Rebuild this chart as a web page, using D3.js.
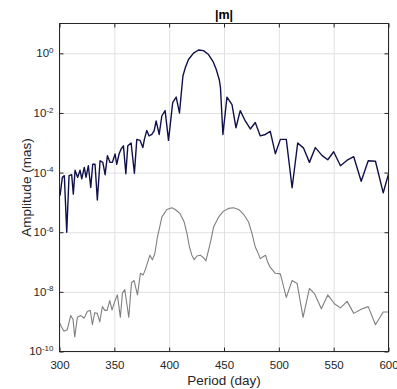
<!DOCTYPE html>
<html><head><meta charset="utf-8">
<script src="https://cdn.jsdelivr.net/npm/d3@7"></script>
<style>body{margin:0;background:#fff}svg{display:block}</style>
</head><body><svg id="c" width="397" height="389"></svg>
<script>
// Dark (navy) series: |m| amplitude
const darkPeriod = [300.5,302.6,304.4,306.6,308.7,311.1,312.6,314.2,316.6,318.7,
  320.3,322.6,324.2,326.3,328.5,330.3,332.4,334.5,337.0,339.5,
  341.6,343.7,346.1,348.2,350.7,352.2,354.3,356.2,358.3,360.5,
  362.3,365.3,368.3,370.5,373.5,376.0,377.4,379.6,381.7,384.2,
  386.3,388.1,390.9,393.3,396.3,399.4,403.2,406.4,409.4,412.5,
  414.6,417.6,422.2,426.8,431.3,435.9,439.9,442.9,445.7,446.8,
  449.0,452.7,457.3,460.9,464.8,469.4,474.0,478.5,483.1,487.7,
  492.2,496.8,501.4,506.8,512.1,517.2,522.6,527.9,533.3,539.5,
  544.6,550.0,556.2,562.3,568.3,575.1,581.5,588.1,595.2,600];
const darkAmp = [1.7e-5,6.9e-5,7.9e-5,1.0e-6,7.9e-5,8.5e-5,1.9e-5,1.2e-4,6.9e-5,1.2e-4,
  6.2e-5,1.5e-4,6.9e-5,1.7e-4,3.2e-5,1.9e-4,1.9e-4,1.2e-5,2.5e-4,2.2e-4,
  8.5e-5,3.7e-4,2.2e-4,2.2e-4,4.2e-4,1.9e-4,4.2e-4,6.2e-4,7.9e-4,9.1e-5,
  7.9e-4,9.8e-4,9.5e-5,1.3e-3,1.2e-3,6.9e-4,1.3e-3,2.6e-3,1.7e-3,1.9e-3,
  2.5e-3,5.4e-3,1.9e-3,7.9e-3,1.2e-2,1.2e-3,2.2e-2,3.4e-2,1.0e-2,0.17,
  0.32,0.62,1.02,1.29,1.23,0.91,0.54,0.29,0.13,0.069,
  1.9e-3,3.4e-2,1.9e-2,3.2e-3,1.2e-2,5.4e-3,2.9e-3,4.8e-3,1.7e-3,1.9e-3,
  2.4e-3,4.3e-4,1.3e-3,1.3e-3,3.1e-5,9.8e-4,6.6e-4,2.2e-4,6.9e-4,3.7e-4,
  2.7e-4,5.0e-4,1.7e-4,2.6e-4,3.4e-4,5.1e-5,2.5e-4,2.4e-4,2.1e-5,9.1e-5];

// Gray series
const grayPeriod = [300.2,301.6,304.1,307.1,310.2,312.3,313.9,316.3,319.4,322.4,
  325.4,328.1,330.0,332.1,334.5,336.7,339.1,341.3,343.4,345.8,
  347.9,350.4,352.8,355.5,357.4,359.5,363.2,365.6,368.0,371.1,
  373.8,376.3,378.4,380.8,382.4,384.7,386.9,389.3,391.2,393.3,
  397.9,402.5,405.5,410.0,413.7,416.2,418.5,420.7,422.8,425.3,
  428.3,431.3,433.5,435.9,438.1,440.5,445.0,449.6,454.2,458.7,
  463.3,467.9,472.4,475.5,478.5,480.6,483.1,485.6,487.9,489.8,
  492.2,496.8,501.4,506.8,512.1,516.7,522.1,527.9,532.7,538.8,
  544.6,550.7,556.2,562.3,568.3,575.1,581.5,588.1,595.2,600];
const grayAmp = [9.1e-10,6.9e-10,4.8e-10,5.4e-10,1.6e-9,1.2e-9,3.1e-10,1.4e-9,1.6e-9,1.3e-9,
  2.2e-9,2.4e-9,7.9e-10,2.0e-9,1.9e-9,9.8e-10,3.2e-9,2.4e-9,2.4e-9,5.1e-9,
  2.5e-9,4.8e-9,7.9e-9,1.4e-9,9.1e-9,1.2e-8,1.4e-9,2.0e-8,2.4e-8,7.9e-9,
  4.2e-8,3.7e-8,5.8e-8,1.1e-7,1.7e-7,1.2e-7,1.9e-7,6.9e-7,1.4e-6,3.2e-6,
  5.8e-6,6.6e-6,5.8e-6,4.2e-6,2.2e-6,9.1e-7,3.2e-7,1.7e-7,1.2e-7,1.6e-7,
  1.7e-7,1.4e-7,1.1e-7,2.5e-7,5.4e-7,1.5e-6,3.2e-6,5.1e-6,6.3e-6,6.6e-6,
  5.8e-6,4.0e-6,2.2e-6,9.1e-7,3.2e-7,2.2e-7,1.3e-7,1.5e-7,1.7e-7,1.0e-7,
  6.6e-8,4.2e-8,4.0e-8,6.5e-9,2.4e-8,1.9e-8,1.4e-9,1.3e-8,8.5e-9,2.7e-9,
  7.9e-9,4.0e-9,2.9e-9,4.8e-9,1.9e-9,2.6e-9,3.2e-9,7.9e-10,2.1e-9,2.1e-9];

const xTicks = [300,350,400,450,500,550,600];
const yTicks = [1e-10,1e-8,1e-6,1e-4,1e-2,1e0];
const yTickExp = ["-10","-8","-6","-4","-2","0"];
const titleText = "|m|";
const xLabelText = "Period (day)";
const yLabelText = "Amplitude (mas)";

const svg = d3.select("#c");
const L = 59.5, R = 388.5, T = 23.5, B = 351.5;
const font = "'Liberation Sans', Arial, Helvetica, sans-serif";
const axisColor = "#262626";
const x = d3.scaleLinear().domain([300, 600]).range([L, R]);
const y = d3.scaleLog().domain([1e-10, 1e1]).range([B, T]);

// grid
svg.append("g").attr("transform", `translate(0,${B})`)
  .call(d3.axisBottom(x).tickValues(xTicks).tickSize(-(B - T)).tickFormat(""))
  .call(g => g.select(".domain").remove())
  .call(g => g.selectAll("line").attr("stroke", "#e0e0e0").attr("stroke-width", 1));
svg.append("g").attr("transform", `translate(${L},0)`)
  .call(d3.axisLeft(y).tickValues(yTicks).tickSize(-(R - L)).tickFormat(""))
  .call(g => g.select(".domain").remove())
  .call(g => g.selectAll("line").attr("stroke", "#e0e0e0").attr("stroke-width", 1));

// clip
svg.append("defs").append("clipPath").attr("id", "clip")
  .append("rect").attr("x", L).attr("y", T).attr("width", R - L).attr("height", B - T);

const line = d3.line().x(d => x(d[0])).y(d => y(d[1]));
const plot = svg.append("g").attr("clip-path", "url(#clip)");
plot.append("path").datum(d3.zip(grayPeriod, grayAmp))
  .attr("d", line).attr("fill", "none").attr("stroke", "#7f7f7f").attr("stroke-width", 1.1)
  .attr("stroke-linejoin", "round");
plot.append("path").datum(d3.zip(darkPeriod, darkAmp))
  .attr("d", line).attr("fill", "none").attr("stroke", "#10104a").attr("stroke-width", 1.4)
  .attr("stroke-linejoin", "round");

// axes with inward ticks
const tk = 4;
function styleAxis(g) {
  g.select(".domain").remove();
  g.selectAll("line").attr("stroke", axisColor);
}
svg.append("g").attr("transform", `translate(0,${B})`)
  .call(d3.axisBottom(x).tickValues(xTicks).tickSize(-tk).tickFormat(d3.format("d")).tickPadding(9))
  .call(styleAxis)
  .call(g => g.selectAll("text").attr("fill", axisColor).attr("font-family", font).attr("font-size", "11.5px"));
svg.append("g").attr("transform", `translate(0,${T})`)
  .call(d3.axisTop(x).tickValues(xTicks).tickSize(-tk).tickFormat(""))
  .call(styleAxis);
const yAxisG = svg.append("g").attr("transform", `translate(${L},0)`)
  .call(d3.axisLeft(y).tickValues(yTicks).tickSize(-tk).tickFormat(() => "").tickPadding(9))
  .call(styleAxis);
yAxisG.selectAll(".tick text").each(function(d, i) {
  const t = d3.select(this).attr("fill", axisColor).attr("font-family", font)
    .attr("font-size", "11.5px").attr("dy", "0.3em").attr("x", -6);
  t.text(null);
  t.append("tspan").text("10");
  t.append("tspan").attr("font-size", "8px").attr("dy", "-0.55em").text(yTickExp[i]);
});
svg.append("g").attr("transform", `translate(${R},0)`)
  .call(d3.axisRight(y).tickValues(yTicks).tickSize(-tk).tickFormat(""))
  .call(styleAxis);

// frame
svg.append("rect").attr("x", L).attr("y", T).attr("width", R - L).attr("height", B - T)
  .attr("fill", "none").attr("stroke", axisColor).attr("stroke-width", 1);

// labels
svg.append("text").attr("x", (L + R) / 2).attr("y", 19).attr("text-anchor", "middle")
  .attr("font-family", font).attr("font-weight", "bold").attr("font-size", "12.5px")
  .attr("fill", "#000").text(titleText);
svg.append("text").attr("x", (L + R) / 2).attr("y", 385).attr("text-anchor", "middle")
  .attr("font-family", font).attr("font-size", "13.5px").attr("fill", axisColor).text(xLabelText);
svg.append("text").attr("transform", `translate(31,${(T + B) / 2}) rotate(-90)`)
  .attr("text-anchor", "middle").attr("font-family", font).attr("font-size", "13.5px")
  .attr("fill", axisColor).text(yLabelText);
</script></body></html>
